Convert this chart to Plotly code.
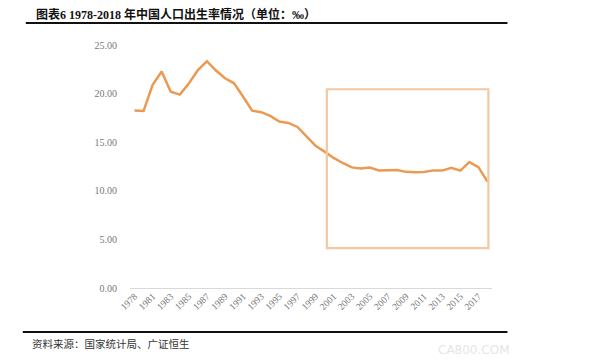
import plotly.graph_objects as go

years = ["1978"] + [str(y) for y in range(1980, 2019)]
birth_rate = [18.25, 18.21, 20.91, 22.28, 20.19, 19.90, 21.04, 22.43, 23.33, 22.37,
              21.58, 21.06, 19.68, 18.24, 18.09, 17.70, 17.12, 16.98, 16.57, 15.64,
              14.64, 14.03, 13.38, 12.86, 12.41, 12.29, 12.40, 12.09, 12.10, 12.14,
              11.95, 11.90, 11.93, 12.10, 12.08, 12.37, 12.07, 12.95, 12.43, 10.94]
tick_years = years[::2]
y_ticks = [0, 5, 10, 15, 20, 25]
highlight_x = (21.25, 39.1)
highlight_y = (4.1, 20.45)

title = "图表6 1978-2018 年中国人口出生率情况（单位：‰）"
source = "资料来源：国家统计局、广证恒生"

W, H = 600, 361
L, R, T, B = 129.5, 107.5, 45, 73


def px_x(px):
    return (px - L) / (W - L - R)


def px_y(py):
    return (H - B - py) / (H - T - B)


fig = go.Figure()
fig.add_trace(go.Scatter(x=years, y=birth_rate, mode="lines",
                         line=dict(color="#EA9A52", width=2.5),
                         hoverinfo="x+y", showlegend=False))

fig.add_shape(type="rect", xref="x", yref="y",
              x0=highlight_x[0], x1=highlight_x[1], y0=highlight_y[0], y1=highlight_y[1],
              line=dict(color="#F5C7A1", width=2.2), fillcolor="rgba(0,0,0,0)")

# header / footer rules
fig.add_shape(type="line", xref="paper", yref="paper",
              x0=px_x(25), x1=px_x(508), y0=px_y(23), y1=px_y(23),
              line=dict(color="#111111", width=2))
fig.add_shape(type="line", xref="paper", yref="paper",
              x0=px_x(22), x1=px_x(508), y0=px_y(332), y1=px_y(332),
              line=dict(color="#111111", width=2))

fig.add_annotation(text="<b>" + title + "</b>", xref="paper", yref="paper",
                   x=px_x(33), y=px_y(15), xanchor="left", yanchor="middle",
                   showarrow=False,
                   font=dict(family="Liberation Serif, Noto Sans CJK SC", size=12, color="#111111"))
fig.add_annotation(text=source, xref="paper", yref="paper",
                   x=px_x(29), y=px_y(343), xanchor="left", yanchor="middle",
                   showarrow=False,
                   font=dict(family="Noto Sans CJK SC", size=10.5, color="#333333"))
fig.add_annotation(text="CA800.COM", xref="paper", yref="paper",
                   x=px_x(512), y=px_y(350), xanchor="right", yanchor="middle",
                   showarrow=False,
                   font=dict(family="DejaVu Sans", size=12, color="#E6E6E6"))

fig.update_layout(
    width=W, height=H, autosize=False,
    margin=dict(l=L, r=R, t=T, b=B),
    paper_bgcolor="white", plot_bgcolor="white",
    xaxis=dict(type="category", tickmode="array", tickvals=tick_years, ticktext=tick_years,
               tickangle=-45, showgrid=False, showline=False, zeroline=False,
               ticks="", range=[-0.5, len(years) - 0.5],
               tickfont=dict(family="Liberation Serif", size=9.5, color="#777777")),
    yaxis=dict(range=[0, 25], tickmode="array", tickvals=y_ticks, tickformat=".2f",
               showgrid=False, zeroline=True, zerolinecolor="#D9D9D9", zerolinewidth=1,
               showline=False, ticks="", ticklabelstandoff=12,
               tickfont=dict(family="Liberation Serif", size=10, color="#777777")),
)

fig.write_html("out.html", config={"displayModeBar": False},
               post_script="document.body.style.margin='0';")
